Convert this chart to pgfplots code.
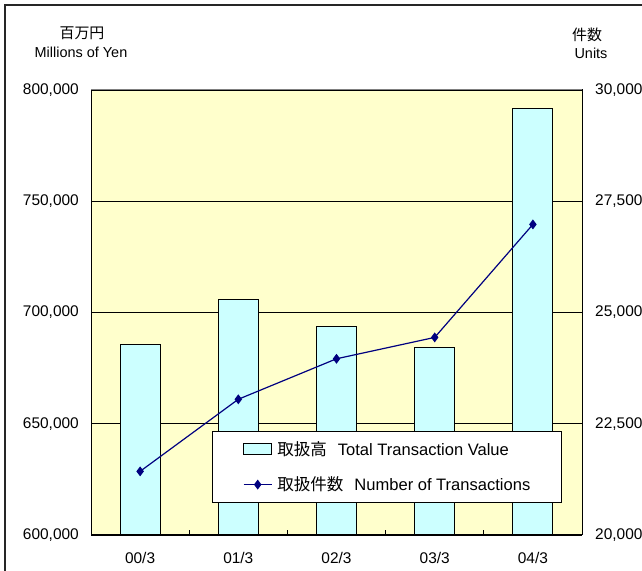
\documentclass[border=0pt]{standalone}
\usepackage{fontspec}
\setmainfont{Liberation Sans}
\newfontfamily\jp{Noto Sans CJK JP}
\usepackage{pgfplots}
\pgfplotsset{compat=1.18}
\definecolor{plotbg}{HTML}{FFFFCC}
\definecolor{barfill}{HTML}{CCFFFF}
\definecolor{linecol}{HTML}{000080}

\pgfplotsset{
  common/.style={
    at={(91bp,36bp)}, anchor=south west, scale only axis,
    width=491bp, height=445bp,
    xmin=-0.5, xmax=4.5,
    scaled y ticks=false,
    tick label style={font=\fontsize{15.5}{18}\selectfont},
  },
}

\begin{document}
\begin{tikzpicture}[x=1bp,y=1bp]
\useasboundingbox (0,0) rectangle (642,571);
\fill[white] (0,0) rectangle (642,571);
\draw[line width=1.2bp, black!85] (5,0) -- (5,566) -- (642,566);

% axis titles
\node[font=\jp\fontsize{15}{18}\selectfont] at (82,538) {百万円};
\node[font=\fontsize{14.5}{17}\selectfont] at (81,519) {Millions of Yen};
\node[font=\jp\fontsize{15}{18}\selectfont] at (587,536) {件数};
\node[font=\fontsize{14.5}{17}\selectfont] at (591,518) {Units};

\begin{axis}[common,
  ymin=600000, ymax=800000,
  axis background/.style={fill=plotbg},
  axis line style={black, line width=1bp},
  xtick={0,1,2,3,4},
  xticklabels={00/3,01/3,02/3,03/3,04/3},
  minor xtick={0.5,1.5,2.5,3.5},
  xtick pos=bottom, ytick pos=left,
  tick align=inside,
  major tick length=0pt, minor tick length=5bp,
  minor tick style={black, line width=1bp},
  xticklabel style={anchor=north, inner sep=0pt, yshift=-17bp},
  ytick={600000,650000,700000,750000,800000},
  yticklabels={{600,000},{650,000},{700,000},{750,000},{800,000}},
  yticklabel style={anchor=east, inner sep=0pt, xshift=-12bp},
  ymajorgrids,
  major grid style={black, line width=0.8bp},
]
\addplot[ybar, bar width=40bp, fill=barfill, draw=black, line width=1bp]
  coordinates {(0,685400) (1,706000) (2,693500) (3,684100) (4,791900)};
\end{axis}

\begin{axis}[common,
  ymin=20000, ymax=30000,
  axis x line=none,
  axis y line*=right,
  axis line style={black, line width=1bp},
  ytick={20000,22500,25000,27500,30000},
  yticklabels={{20,000},{22,500},{25,000},{27,500},{30,000}},
  major tick length=0pt,
  yticklabel style={anchor=west, inner sep=0pt, xshift=13bp},
  legend style={at={(0.2458,0.0726)}, anchor=south west,
    draw=black, line width=0.8bp, fill=white,
    font=\fontsize{16.6}{19}\selectfont,
    inner xsep=31bp, inner ysep=10bp, row sep=20bp,
    nodes={inner sep=0pt},
    /tikz/every odd column/.append style={column sep=5bp}},
  legend cell align=left,
]
\draw[gray, line width=1bp] (rel axis cs:0,1) -- (rel axis cs:1,1);
\addlegendimage{legend image code/.code={
  \draw[fill=barfill, draw=black, line width=1bp] (0bp,-5.5bp) rectangle (28bp,5.5bp);}}
\addlegendentry{{\jp 取扱高}\hspace{11bp}Total Transaction Value}
\addplot[linecol, line width=1.2bp, mark=diamond*, mark size=4bp,
  legend image code/.code={
    \draw[linecol, line width=1.2bp] (0bp,0bp) -- (28bp,0bp);
    \fill[linecol] (14bp,4bp) -- (17bp,0bp) -- (14bp,-4bp) -- (11bp,0bp) -- cycle;}]
  coordinates {(0,21430) (1,23050) (2,23960) (3,24440) (4,26980)};
\addlegendentry{{\jp 取扱件数}\hspace{11bp}Number of Transactions}
\end{axis}
\end{tikzpicture}
\end{document}
